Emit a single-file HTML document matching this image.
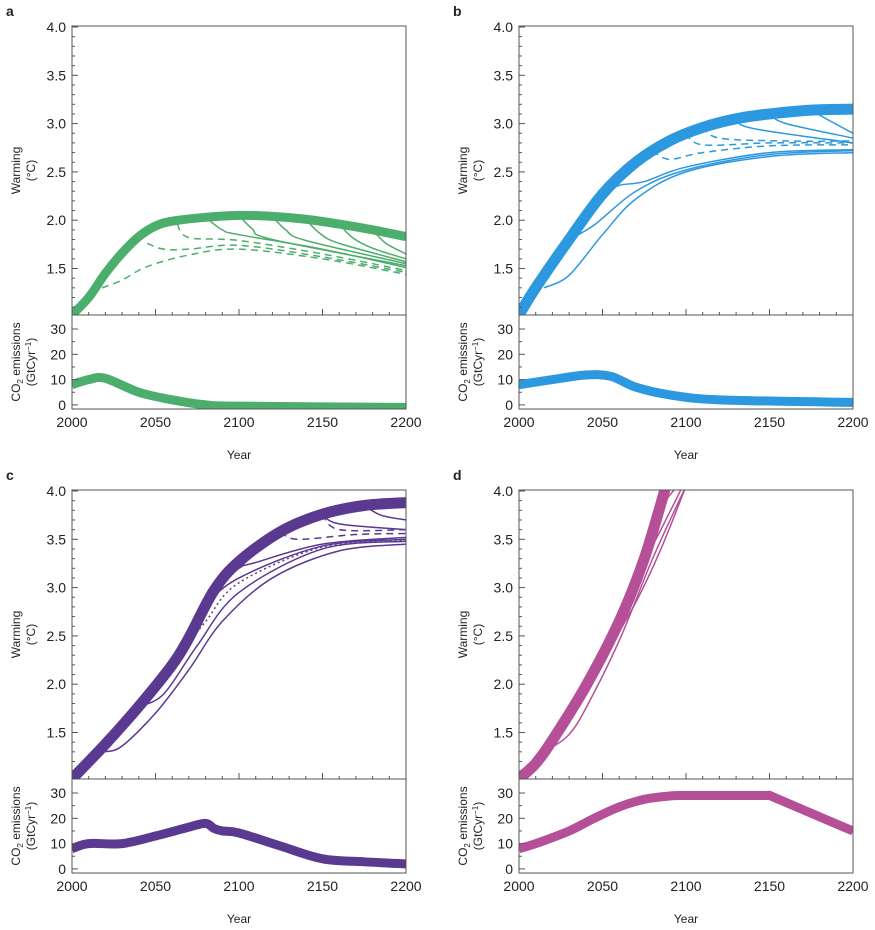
<!DOCTYPE html>
<html><head><meta charset="utf-8"><style>
body{margin:0;background:#fff}
svg text{font-family:"Liberation Sans",sans-serif;fill:#222}
</style></head><body>
<svg id="s" width="875" height="925" xmlns="http://www.w3.org/2000/svg"></svg>
<script>
const S=document.getElementById('s');let out='';
function cr(pts){let d='M'+pts[0][0]+','+pts[0][1];for(let i=0;i<pts.length-1;i++){const p0=pts[i-1]||pts[i],p1=pts[i],p2=pts[i+1],p3=pts[i+2]||p2;
d+=` C${p1[0]+(p2[0]-p0[0])/6},${p1[1]+(p2[1]-p0[1])/6} ${p2[0]-(p3[0]-p1[0])/6},${p2[1]-(p3[1]-p1[1])/6} ${p2[0]},${p2[1]}`;}return d;}
let cid=0;
function panel(ox,oy,letter,col,warm,emis){
 const x0=ox,x1=ox+334,yt=oy,yw=oy+289,yb=oy+383;
 const X=y=>x0+(y-2000)*334/200;
 const W=v=>yt+1+(4-v)*96.6;
 const E=v=>yw+14+(30-v)*2.53;
 cid++;
 out+=`<defs><clipPath id="cw${cid}"><rect x="${x0}" y="${yt}" width="334" height="289"/></clipPath><clipPath id="ce${cid}"><rect x="${x0}" y="${yw}" width="334" height="94"/></clipPath></defs>`;
 out+=`<text x="${ox-66}" y="${oy-10}" font-size="14" font-weight="bold">${letter}</text>`;
 out+=`<g clip-path="url(#cw${cid})">`;
 warm.forEach(s=>{const p=s.p.map(a=>[X(a[0]),W(a[1])]);out+=`<path d="${cr(p)}" fill="none" stroke="${col}" stroke-width="${s.w}" ${s.d?'stroke-dasharray="'+s.d+'"':''}/>`;});
 out+=`</g><g clip-path="url(#ce${cid})">`;
 {const p=emis.map(a=>[X(a[0]),E(a[1])]);out+=`<path d="${cr(p)}" fill="none" stroke="${col}" stroke-width="9"/>`;}
 out+=`</g>`;
 out+=`<rect x="${x0}" y="${yt}" width="334" height="383" fill="none" stroke="#555" stroke-width="1"/><line x1="${x0}" y1="${yw}" x2="${x1}" y2="${yw}" stroke="#555"/>`;
 for(let v=1.1;v<=4.001;v+=0.1){const y=W(v);const maj=Math.abs(v*2-Math.round(v*2))<0.01;out+=`<line x1="${x0}" y1="${y}" x2="${x0+(maj?6:3)}" y2="${y}" stroke="#555"/>`;}
 [1.5,2.0,2.5,3.0,3.5,4.0].forEach(v=>out+=`<text x="${x0-6}" y="${W(v)+5}" font-size="14" text-anchor="end">${v.toFixed(1)}</text>`);
 for(let v=0;v<=30;v+=5){const y=E(v);out+=`<line x1="${x0}" y1="${y}" x2="${x0+(v%10?3:6)}" y2="${y}" stroke="#555"/>`;}
 [0,10,20,30].forEach(v=>out+=`<text x="${x0-6}" y="${E(v)+5}" font-size="14" text-anchor="end">${v}</text>`);
 for(let yr=2010;yr<2200;yr+=10){const x=X(yr);out+=`<line x1="${x}" y1="${yw}" x2="${x}" y2="${yw-(yr%50?3:6)}" stroke="#555"/>`;}
 [2000,2050,2100,2150,2200].forEach(yr=>out+=`<text x="${X(yr)}" y="${yb+18}" font-size="14" text-anchor="middle">${yr}</text>`);
 out+=`<text x="${X(2100)}" y="${yb+50}" font-size="12" text-anchor="middle">Year</text>`;
 const cy=(yt+yw)/2;
 out+=`<text transform="translate(${ox-52},${cy}) rotate(-90)" font-size="12" text-anchor="middle">Warming</text>`;
 out+=`<text transform="translate(${ox-37},${cy}) rotate(-90)" font-size="12" text-anchor="middle">(°C)</text>`;
 const ey=(yw+yb)/2;
 out+=`<text transform="translate(${ox-52},${ey}) rotate(-90)" font-size="12" text-anchor="middle">CO<tspan font-size="8" dy="3">2</tspan><tspan dy="-3"> emissions</tspan></text>`;
 out+=`<text transform="translate(${ox-37},${ey}) rotate(-90)" font-size="12" text-anchor="middle">(GtCyr<tspan font-size="8" dy="-4">−1</tspan><tspan dy="4">)</tspan></text>`;
}
const G='#4cae6c',B='#2b98df',P='#5a3990',M='#b44f98';
const aT=[[2000,1.02],[2010,1.2],[2020,1.45],[2030,1.66],[2040,1.83],[2050,1.94],[2060,1.99],[2080,2.03],[2100,2.05],[2120,2.04],[2140,2.01],[2160,1.96],[2180,1.9],[2200,1.83]];
const aw=[];
[[2080,2.03,1.51],[2100,2.05,1.53],[2120,2.04,1.55],[2140,2.01,1.57],[2160,1.96,1.6],[2180,1.9,1.64]].forEach(([y,v,e],i)=>{
 if(i==0)aw.push({w:1.5,p:[[y,v],[2090,1.9],[2100,1.85],[2150,1.7],[2200,e]]});
 else aw.push({w:1.5,p:[[y,v],[y+8,v-0.14],[y+20,v-0.25],[2200,e]]});});
aw.push({w:1.5,d:'7,5',p:[[2063,1.96],[2070,1.82],[2100,1.79],[2150,1.65],[2200,1.48]]});
aw.push({w:1.5,d:'7,5',p:[[2045,1.76],[2055,1.7],[2070,1.7],[2100,1.74],[2150,1.62],[2200,1.46]]});
aw.push({w:1.5,d:'7,5',p:[[2018,1.3],[2030,1.38],[2045,1.52],[2070,1.64],[2100,1.7],[2150,1.6],[2200,1.44]]});
aw.push({w:9,p:aT});
panel(72,26,'a',G,aw,[[2000,8],[2010,10],[2020,10.5],[2040,5],[2060,2],[2080,0],[2100,-0.5],[2200,-1]]);
const bT=[[2000,1.02],[2010,1.3],[2030,1.8],[2050,2.27],[2070,2.6],[2090,2.82],[2110,2.96],[2130,3.05],[2150,3.1],[2175,3.14],[2200,3.15]];
const bw=[];
[[2130,3.05,2.8],[2150,3.1,2.85],[2175,3.14,2.9]].forEach(([y,v,e])=>bw.push({w:1.5,p:[[y,v],[y+10,v-0.1],[2200,e]]}));
bw.push({w:1.5,d:'7,5',p:[[2080,2.72],[2090,2.63],[2110,2.7],[2150,2.77],[2200,2.78]]});
bw.push({w:1.5,d:'7,5',p:[[2100,2.9],[2110,2.78],[2150,2.8],[2200,2.8]]});
bw.push({w:1.5,d:'7,5',p:[[2110,2.97],[2120,2.85],[2160,2.82],[2200,2.82]]});
bw.push({w:1.5,p:[[2050,2.27],[2060,2.36],[2075,2.4],[2100,2.55],[2150,2.7],[2200,2.73]]});
bw.push({w:1.5,p:[[2030,1.8],[2045,1.95],[2070,2.3],[2100,2.52],[2150,2.68],[2200,2.72]]});
bw.push({w:1.5,p:[[2015,1.3],[2030,1.43],[2050,1.85],[2070,2.22],[2100,2.5],[2150,2.66],[2200,2.7]]});
bw.push({w:11,p:bT});
panel(519,26,'b',B,bw,[[2000,8],[2020,10],[2040,11.8],[2055,11.3],[2070,7],[2090,4],[2120,2],[2200,1]]);
const cT=[[2000,1.02],[2020,1.38],[2040,1.77],[2060,2.2],[2070,2.48],[2085,2.97],[2100,3.27],[2125,3.58],[2150,3.76],[2175,3.85],[2200,3.88]];
const cw=[];
[[2150,3.76,3.6],[2175,3.85,3.7]].forEach(([y,v,e])=>cw.push({w:1.5,p:[[y,v],[y+10,v-0.1],[2200,e]]}));
cw.push({w:1.5,d:'7,5',p:[[2125,3.58],[2135,3.5],[2170,3.55],[2200,3.56]]});
cw.push({w:1.5,d:'7,5',p:[[2150,3.76],[2160,3.6],[2200,3.6]]});
cw.push({w:1.5,p:[[2085,2.97],[2100,3.2],[2110,3.26],[2150,3.45],[2200,3.52]]});
cw.push({w:1.5,p:[[2070,2.48],[2080,2.8],[2100,3.1],[2150,3.43],[2200,3.5]]});
cw.push({w:1.5,d:'2,3',p:[[2060,2.2],[2080,2.65],[2100,3.05],[2150,3.42],[2200,3.49]]});
cw.push({w:1.5,p:[[2040,1.77],[2055,1.9],[2075,2.4],[2100,2.95],[2150,3.4],[2200,3.48]]});
cw.push({w:1.5,p:[[2020,1.3],[2030,1.36],[2050,1.7],[2070,2.15],[2090,2.65],[2120,3.1],[2160,3.38],[2200,3.45]]});
cw.push({w:11,p:cT});
panel(72,490,'c',P,cw,[[2000,8],[2010,10],[2030,10],[2050,13],[2070,16.5],[2080,18],[2085,16],[2090,15],[2100,14.2],[2125,9],[2150,4],[2175,2.8],[2200,2]]);
const dw=[];
dw.push({w:1.5,p:[[2010,1.25],[2020,1.35],[2030,1.48],[2040,1.75],[2060,2.45],[2080,3.3],[2100,4.05]]});
dw.push({w:1.5,p:[[2040,1.98],[2050,2.25],[2070,2.85],[2085,3.4],[2100,4.05]]});
dw.push({w:1.5,p:[[2060,2.75],[2070,3.1],[2085,3.6],[2098,4.05]]});
dw.push({w:1.5,p:[[2080,3.7],[2090,3.95],[2095,4.05]]});
dw.push({w:11,p:[[2000,1.02],[2010,1.18],[2020,1.42],[2040,1.98],[2060,2.65],[2075,3.3],[2088,4.05]]});
panel(519,490,'d',M,dw,[[2000,8],[2010,10],[2030,15],[2045,20],[2060,24.5],[2075,27.5],[2090,28.8],[2100,29],[2125,29],[2148,29],[2150,29],[2152,28.5],[2175,22],[2200,15]]);
S.innerHTML=out;
</script>
</body></html>
